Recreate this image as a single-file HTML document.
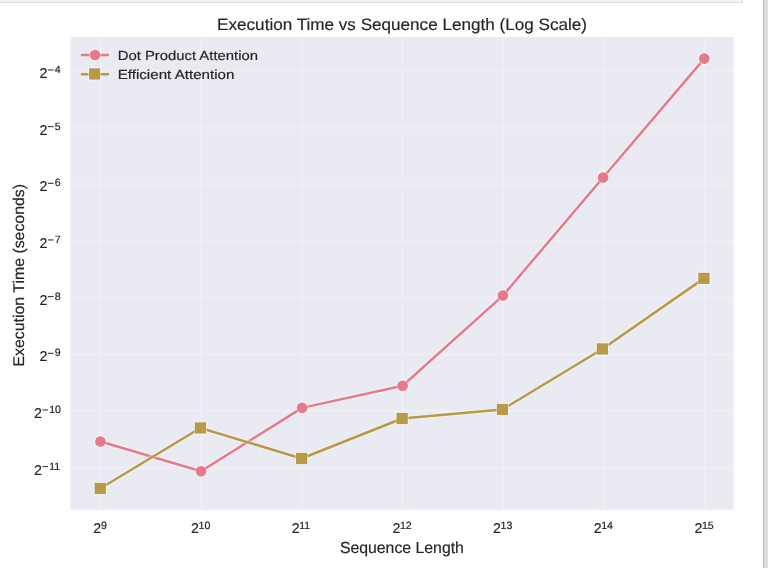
<!DOCTYPE html>
<html><head><meta charset="utf-8"><style>
html,body{margin:0;padding:0;background:#fff;width:768px;height:568px;overflow:hidden}
svg{position:absolute;left:0;top:0;font-family:"Liberation Sans", sans-serif;will-change:transform;text-rendering:geometricPrecision}
</style></head><body>
<svg width="768" height="568" viewBox="0 0 768 568">
<rect x="0" y="0" width="768" height="568" fill="#ffffff"/>
<rect x="0" y="0" width="743" height="3" fill="#dddddd"/>
<rect x="0" y="0" width="742" height="2" fill="#f4f4f4"/>
<rect x="763" y="0" width="1" height="568" fill="#c6c6c6"/>
<rect x="764" y="0" width="1" height="568" fill="#d4d4d4"/>
<rect x="765" y="0" width="3" height="568" fill="#dfdfdf"/>
<rect x="70.5" y="37.0" width="663.00" height="472.70" fill="#eaeaf2"/>
<path d="M100.50 37.0V509.7M201.18 37.0V509.7M301.86 37.0V509.7M402.54 37.0V509.7M503.22 37.0V509.7M603.90 37.0V509.7M704.58 37.0V509.7M70.5 71.00H733.5M70.5 127.67H733.5M70.5 184.34H733.5M70.5 241.01H733.5M70.5 297.68H733.5M70.5 354.35H733.5M70.5 411.02H733.5M70.5 467.69H733.5" stroke="#efeff4" stroke-width="1.7" fill="none"/>
<polyline points="100.39,441.48 201.04,471.30 302.10,407.86 402.65,385.74 502.95,295.56 603.12,177.48 704.30,58.60" fill="none" stroke="#ffffff" stroke-opacity="0.35" stroke-width="4.5" stroke-linejoin="round" stroke-linecap="round"/><polyline points="100.39,441.48 201.04,471.30 302.10,407.86 402.65,385.74 502.95,295.56 603.12,177.48 704.30,58.60" fill="none" stroke="#e57a8c" stroke-width="2.5" stroke-linejoin="round" stroke-linecap="round"/>
<polyline points="100.25,488.45 200.42,427.95 301.60,458.48 402.12,418.48 502.42,409.48 602.42,348.95 703.95,278.40" fill="none" stroke="#ffffff" stroke-opacity="0.35" stroke-width="4.5" stroke-linejoin="round" stroke-linecap="round"/><polyline points="100.25,488.45 200.42,427.95 301.60,458.48 402.12,418.48 502.42,409.48 602.42,348.95 703.95,278.40" fill="none" stroke="#b69a45" stroke-width="2.5" stroke-linejoin="round" stroke-linecap="round"/>
<circle cx="100.39" cy="441.48" r="5.80" fill="none" stroke="#ffffff" stroke-opacity="0.5" stroke-width="1"/><circle cx="100.39" cy="441.48" r="5.3" fill="#e57a8c"/>
<circle cx="201.04" cy="471.30" r="5.80" fill="none" stroke="#ffffff" stroke-opacity="0.5" stroke-width="1"/><circle cx="201.04" cy="471.30" r="5.3" fill="#e57a8c"/>
<circle cx="302.10" cy="407.86" r="5.80" fill="none" stroke="#ffffff" stroke-opacity="0.5" stroke-width="1"/><circle cx="302.10" cy="407.86" r="5.3" fill="#e57a8c"/>
<circle cx="402.65" cy="385.74" r="5.80" fill="none" stroke="#ffffff" stroke-opacity="0.5" stroke-width="1"/><circle cx="402.65" cy="385.74" r="5.3" fill="#e57a8c"/>
<circle cx="502.95" cy="295.56" r="5.80" fill="none" stroke="#ffffff" stroke-opacity="0.5" stroke-width="1"/><circle cx="502.95" cy="295.56" r="5.3" fill="#e57a8c"/>
<circle cx="603.12" cy="177.48" r="5.80" fill="none" stroke="#ffffff" stroke-opacity="0.5" stroke-width="1"/><circle cx="603.12" cy="177.48" r="5.3" fill="#e57a8c"/>
<circle cx="704.30" cy="58.60" r="5.80" fill="none" stroke="#ffffff" stroke-opacity="0.5" stroke-width="1"/><circle cx="704.30" cy="58.60" r="5.3" fill="#e57a8c"/>
<rect x="94.15" y="482.35" width="12.2" height="12.2" fill="none" stroke="#ffffff" stroke-opacity="0.5" stroke-width="1"/><rect x="94.65" y="482.85" width="11.2" height="11.2" fill="#b69a45"/>
<rect x="194.32" y="421.85" width="12.2" height="12.2" fill="none" stroke="#ffffff" stroke-opacity="0.5" stroke-width="1"/><rect x="194.82" y="422.35" width="11.2" height="11.2" fill="#b69a45"/>
<rect x="295.50" y="452.38" width="12.2" height="12.2" fill="none" stroke="#ffffff" stroke-opacity="0.5" stroke-width="1"/><rect x="296.00" y="452.88" width="11.2" height="11.2" fill="#b69a45"/>
<rect x="396.02" y="412.38" width="12.2" height="12.2" fill="none" stroke="#ffffff" stroke-opacity="0.5" stroke-width="1"/><rect x="396.52" y="412.88" width="11.2" height="11.2" fill="#b69a45"/>
<rect x="496.32" y="403.38" width="12.2" height="12.2" fill="none" stroke="#ffffff" stroke-opacity="0.5" stroke-width="1"/><rect x="496.82" y="403.88" width="11.2" height="11.2" fill="#b69a45"/>
<rect x="596.32" y="342.85" width="12.2" height="12.2" fill="none" stroke="#ffffff" stroke-opacity="0.5" stroke-width="1"/><rect x="596.82" y="343.35" width="11.2" height="11.2" fill="#b69a45"/>
<rect x="697.85" y="272.30" width="12.2" height="12.2" fill="none" stroke="#ffffff" stroke-opacity="0.5" stroke-width="1"/><rect x="698.35" y="272.80" width="11.2" height="11.2" fill="#b69a45"/>
<line x1="82" y1="54.9" x2="108" y2="54.9" stroke="#e57a8c" stroke-width="2.5" stroke-linecap="round"/>
<circle cx="95.10" cy="54.95" r="5.80" fill="none" stroke="#ffffff" stroke-opacity="0.5" stroke-width="1"/><circle cx="95.10" cy="54.95" r="5.3" fill="#e57a8c"/>
<line x1="82" y1="74.3" x2="108" y2="74.3" stroke="#b69a45" stroke-width="2.5" stroke-linecap="round"/>
<rect x="88.60" y="67.85" width="12" height="12.2" fill="none" stroke="#ffffff" stroke-opacity="0.5" stroke-width="1"/><rect x="89.10" y="68.35" width="11" height="11.2" fill="#b69a45"/>
<text x="117.69" y="59.50" font-size="13.2" textLength="140.27" lengthAdjust="spacingAndGlyphs" fill="#262626" stroke="#262626" stroke-width="0.18">Dot Product Attention</text>
<text x="117.67" y="79.10" font-size="13.2" textLength="116.81" lengthAdjust="spacingAndGlyphs" fill="#262626" stroke="#262626" stroke-width="0.18">Efficient Attention</text>
<text x="217.10" y="29.95" font-size="16.5" textLength="369.86" lengthAdjust="spacingAndGlyphs" fill="#262626" stroke="#262626" stroke-width="0.18">Execution Time vs Sequence Length (Log Scale)</text>
<text x="339.88" y="553.15" font-size="16.0" textLength="124.05" lengthAdjust="spacingAndGlyphs" fill="#262626" stroke="#262626" stroke-width="0.18">Sequence Length</text>
<g transform="translate(23.84,0) rotate(-90)"><text x="-366.50" y="0.00" font-size="15.5" textLength="182.57" lengthAdjust="spacingAndGlyphs" fill="#262626" stroke="#262626" stroke-width="0.18">Execution Time (seconds)</text></g>
<text x="93.20" y="532.80" font-size="14.2" fill="#262626" stroke="#262626" stroke-width="0.18">2</text>
<text x="100.99" y="529.00" font-size="10.6" fill="#262626" stroke="#262626" stroke-width="0.18">9</text>
<text x="191.05" y="532.80" font-size="14.2" fill="#262626" stroke="#262626" stroke-width="0.18">2</text>
<text x="198.52" y="529.00" font-size="10.6" fill="#262626" stroke="#262626" stroke-width="0.18">10</text>
<text x="291.78" y="532.80" font-size="14.2" fill="#262626" stroke="#262626" stroke-width="0.18">2</text>
<text x="299.25" y="529.00" font-size="10.6" fill="#262626" stroke="#262626" stroke-width="0.18">11</text>
<text x="392.47" y="532.80" font-size="14.2" fill="#262626" stroke="#262626" stroke-width="0.18">2</text>
<text x="399.94" y="529.00" font-size="10.6" fill="#262626" stroke="#262626" stroke-width="0.18">12</text>
<text x="493.11" y="532.80" font-size="14.2" fill="#262626" stroke="#262626" stroke-width="0.18">2</text>
<text x="500.59" y="529.00" font-size="10.6" fill="#262626" stroke="#262626" stroke-width="0.18">13</text>
<text x="593.72" y="532.80" font-size="14.2" fill="#262626" stroke="#262626" stroke-width="0.18">2</text>
<text x="601.19" y="529.00" font-size="10.6" fill="#262626" stroke="#262626" stroke-width="0.18">14</text>
<text x="694.46" y="532.80" font-size="14.2" fill="#262626" stroke="#262626" stroke-width="0.18">2</text>
<text x="701.94" y="529.00" font-size="10.6" fill="#262626" stroke="#262626" stroke-width="0.18">15</text>
<text x="54.75" y="72.95" font-size="10.6" fill="#262626" stroke="#262626" stroke-width="0.18">4</text>
<rect x="47.95" y="69.45" width="5.6" height="1.0" fill="#262626"/>
<text x="39.52" y="77.85" font-size="14.2" fill="#262626" stroke="#262626" stroke-width="0.18">2</text>
<text x="54.75" y="129.62" font-size="10.6" fill="#262626" stroke="#262626" stroke-width="0.18">5</text>
<rect x="47.95" y="126.12" width="5.6" height="1.0" fill="#262626"/>
<text x="39.52" y="134.52" font-size="14.2" fill="#262626" stroke="#262626" stroke-width="0.18">2</text>
<text x="54.75" y="186.29" font-size="10.6" fill="#262626" stroke="#262626" stroke-width="0.18">6</text>
<rect x="47.95" y="182.79" width="5.6" height="1.0" fill="#262626"/>
<text x="39.52" y="191.19" font-size="14.2" fill="#262626" stroke="#262626" stroke-width="0.18">2</text>
<text x="54.75" y="242.96" font-size="10.6" fill="#262626" stroke="#262626" stroke-width="0.18">7</text>
<rect x="47.95" y="239.46" width="5.6" height="1.0" fill="#262626"/>
<text x="39.52" y="247.86" font-size="14.2" fill="#262626" stroke="#262626" stroke-width="0.18">2</text>
<text x="54.75" y="299.63" font-size="10.6" fill="#262626" stroke="#262626" stroke-width="0.18">8</text>
<rect x="47.95" y="296.13" width="5.6" height="1.0" fill="#262626"/>
<text x="39.52" y="304.53" font-size="14.2" fill="#262626" stroke="#262626" stroke-width="0.18">2</text>
<text x="54.75" y="356.30" font-size="10.6" fill="#262626" stroke="#262626" stroke-width="0.18">9</text>
<rect x="47.95" y="352.80" width="5.6" height="1.0" fill="#262626"/>
<text x="39.52" y="361.20" font-size="14.2" fill="#262626" stroke="#262626" stroke-width="0.18">2</text>
<text x="49.21" y="412.97" font-size="10.6" fill="#262626" stroke="#262626" stroke-width="0.18">10</text>
<rect x="42.41" y="409.47" width="5.6" height="1.0" fill="#262626"/>
<text x="33.98" y="417.87" font-size="14.2" fill="#262626" stroke="#262626" stroke-width="0.18">2</text>
<text x="49.21" y="469.64" font-size="10.6" fill="#262626" stroke="#262626" stroke-width="0.18">11</text>
<rect x="42.41" y="466.14" width="5.6" height="1.0" fill="#262626"/>
<text x="33.98" y="474.54" font-size="14.2" fill="#262626" stroke="#262626" stroke-width="0.18">2</text>
</svg>
</body></html>
